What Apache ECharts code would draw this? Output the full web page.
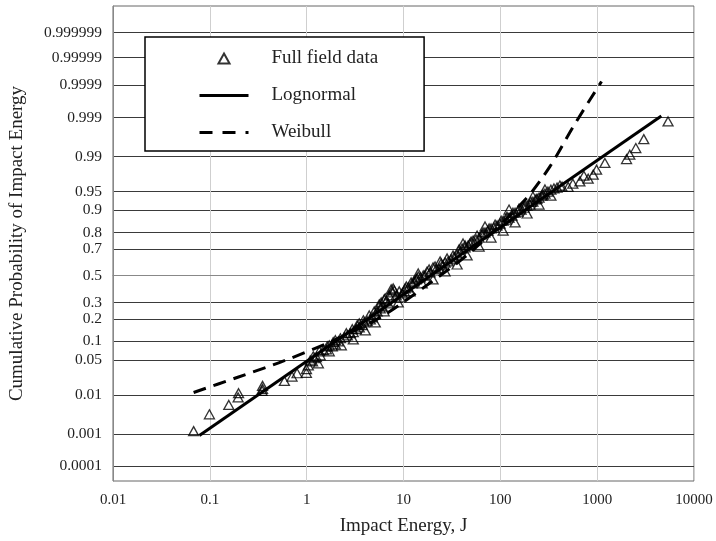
<!DOCTYPE html>
<html>
<head>
<meta charset="utf-8">
<script src="https://cdn.jsdelivr.net/npm/echarts@6/dist/echarts.min.js"></script>
<style>
  html, body { margin: 0; padding: 0; background: #fff; }
  #chart { width: 716px; height: 541px; }
</style>
</head>
<body>
<div id="chart"></div>
<script>
// field data (impact energy J, cumulative probability)
const fieldEnergy = [
  0.068, 0.099, 0.157, 0.196, 0.198, 0.347, 0.35, 0.35, 0.589, 0.706, 0.796, 0.993, 0.995,
  1.04, 1.15, 1.26, 1.38, 1.60, 1.84, 2.12, 2.45, 2.82, 3.25, 3.75, 4.22, 4.76, 5.35, 6.03, 6.63,
  7.12, 7.65, 8.41, 9.25, 10.2, 11.2, 12.3, 13.5, 14.9, 16.7, 18.8, 21.7, 25.1, 28.9, 33.3, 38.5,
  43.3, 48.7, 56.2, 64.8, 74.7, 86.1, 99.3, 115, 132, 152, 176, 202, 233, 269, 310, 358,
  1.32, 1.71, 2.28, 3.03, 4.03, 5.11, 6.32, 8.83, 11.7, 15.6, 20.2, 26.9, 35.8, 45.4, 60.4,
  80.2, 107, 142, 189, 251, 333,
  1.98, 3.49, 5.89, 7.46, 14.2, 23.9, 41.2, 69.5, 123, 217, 289, 412, 561, 729,
  1.09, 1.20, 1.49, 1.71, 1.98, 2.63, 3.03, 3.49, 3.93, 4.54, 5.11, 5.75, 6.48, 6.95, 8.02,
  9.71, 10.7, 12.9, 14.2, 17.5, 20.2, 23.3, 26.9, 31.0, 35.8, 40.3, 46.5, 52.3, 60.4, 69.5,
  80.2, 92.5, 107, 123, 142, 164, 189, 217, 251, 289, 333, 385, 434,
  1.17, 1.35, 1.63, 1.88, 2.23, 2.57, 2.96, 3.33, 3.85, 4.43, 4.99, 5.62, 6.32, 7.83, 9.03,
  10.4, 12.0, 13.8, 16.0, 18.4, 21.2, 24.5, 28.2, 32.5, 37.5, 43.3, 49.9, 57.5, 66.4, 76.6,
  88.3, 102, 117, 135, 156, 180, 207, 239, 276,
  502, 663, 808, 910, 986, 1202, 2011, 2174, 2506, 3030, 5395
];
const fieldProb = [
  0.0012, 0.0034, 0.0058, 0.0087, 0.0109, 0.0122, 0.0157, 0.0135, 0.0199, 0.0245, 0.0284, 0.029, 0.034,
  0.040, 0.047, 0.056, 0.060, 0.075, 0.084, 0.100, 0.115, 0.131, 0.148, 0.167, 0.187, 0.208, 0.243, 0.275, 0.308,
  0.350, 0.372, 0.350, 0.336, 0.380, 0.410, 0.440, 0.471, 0.487, 0.502, 0.526, 0.549, 0.580, 0.610, 0.640, 0.675,
  0.710, 0.736, 0.760, 0.790, 0.811, 0.827, 0.846, 0.864, 0.880, 0.895, 0.908, 0.918, 0.932, 0.941, 0.950, 0.956,
  0.0436, 0.070, 0.087, 0.107, 0.143, 0.181, 0.243, 0.301, 0.380, 0.440, 0.471, 0.533, 0.587, 0.654, 0.716,
  0.772, 0.811, 0.851, 0.888, 0.918, 0.941,
  0.104, 0.176, 0.301, 0.395, 0.518, 0.610, 0.736, 0.832, 0.902, 0.939, 0.954, 0.961, 0.964, 0.9747,
  0.049, 0.0535, 0.073, 0.087, 0.090, 0.122, 0.135, 0.157, 0.181, 0.197, 0.225, 0.262, 0.329, 0.295, 0.387,
  0.365, 0.417, 0.456, 0.494, 0.533, 0.564, 0.557, 0.602, 0.625, 0.661, 0.703, 0.723, 0.754, 0.772, 0.801,
  0.822, 0.837, 0.859, 0.872, 0.891, 0.902, 0.915, 0.926, 0.9365, 0.9457, 0.9537, 0.9574, 0.9591,
  0.0577, 0.070, 0.084, 0.097, 0.111, 0.131, 0.148, 0.167, 0.192, 0.219, 0.243, 0.288, 0.322, 0.402, 0.380,
  0.402, 0.448, 0.479, 0.502, 0.549, 0.572, 0.595, 0.632, 0.654, 0.696, 0.723, 0.748, 0.784, 0.801, 0.822,
  0.841, 0.859, 0.876, 0.891, 0.905, 0.915, 0.926, 0.934, 0.9435,
  0.9586, 0.9674, 0.971, 0.9759, 0.9809, 0.9862, 0.9887, 0.991, 0.9937, 0.9962, 0.99871
];

// fitted lines
const lognormalEnergy = [0.078, 4600];
const lognormalProb = [0.0009, 0.9991];
const weibullEnergy = [0.068, 0.191, 0.579, 1.83, 5.75, 16.1, 48.7, 180, 326, 567, 1109];
const weibullProb = [0.0113, 0.0234, 0.048, 0.101, 0.208, 0.408, 0.675, 0.931, 0.9837, 0.99823, 0.999926];

// axis ticks
const probTicks = [0.0001, 0.001, 0.01, 0.05, 0.1, 0.2, 0.3, 0.5, 0.7, 0.8, 0.9, 0.95, 0.99, 0.999, 0.9999, 0.99999, 0.999999];
const probLabels = ['0.0001', '0.001', '0.01', '0.05', '0.1', '0.2', '0.3', '0.5', '0.7', '0.8', '0.9', '0.95', '0.99', '0.999', '0.9999', '0.99999', '0.999999'];
const energyTicks = [0.01, 0.1, 1, 10, 100, 1000, 10000];
const energyLabels = ['0.01', '0.1', '1', '10', '100', '1000', '10000'];

// inverse normal cdf (Acklam), used as the probability scale
function probit(p) {
  const a = [-3.969683028665376e+01, 2.209460984245205e+02, -2.759285104469687e+02, 1.383577518672690e+02, -3.066479806614716e+01, 2.506628277459239e+00];
  const b = [-5.447609879822406e+01, 1.615858368580409e+02, -1.556989798598866e+02, 6.680131188771972e+01, -1.328068155288572e+01];
  const c = [-7.784894002430293e-03, -3.223964580411365e-01, -2.400758277161838e+00, -2.549732539343734e+00, 4.374664141464968e+00, 2.938163982698783e+00];
  const d = [7.784695709041462e-03, 3.224671290700398e-01, 2.445134137142996e+00, 3.754408661907416e+00];
  const plow = 0.02425;
  let q, r;
  if (p < plow) {
    q = Math.sqrt(-2 * Math.log(p));
    return (((((c[0] * q + c[1]) * q + c[2]) * q + c[3]) * q + c[4]) * q + c[5]) /
      ((((d[0] * q + d[1]) * q + d[2]) * q + d[3]) * q + 1);
  }
  if (p <= 1 - plow) {
    q = p - 0.5;
    r = q * q;
    return (((((a[0] * r + a[1]) * r + a[2]) * r + a[3]) * r + a[4]) * r + a[5]) * q /
      (((((b[0] * r + b[1]) * r + b[2]) * r + b[3]) * r + b[4]) * r + 1);
  }
  q = Math.sqrt(-2 * Math.log(1 - p));
  return -(((((c[0] * q + c[1]) * q + c[2]) * q + c[3]) * q + c[4]) * q + c[5]) /
    ((((d[0] * q + d[1]) * q + d[2]) * q + d[3]) * q + 1);
}

const zTicks = probTicks.map(probit);
const FONT = 'Liberation Serif';

const chart = echarts.init(document.getElementById('chart'));
chart.setOption({
  animation: false,
  grid: { left: 112, right: 22, top: 6, bottom: 59, show: true, borderColor: '#666', borderWidth: 1 },
  legend: {
    left: 145,
    top: 37,
    orient: 'vertical',
    backgroundColor: '#fff',
    borderColor: '#000',
    borderWidth: 1.5,
    borderRadius: 0,
    padding: [12, 46, 9, 53],
    itemWidth: 49,
    itemHeight: 10,
    itemGap: 18,
    textStyle: { fontFamily: FONT, fontSize: 19, color: '#222', padding: [0, 0, 0, 18] },
    data: [
      { name: 'Full field data', icon: 'path://M5,0L10,9L0,9Z' },
      { name: 'Lognormal', itemStyle: { opacity: 0 }, lineStyle: { width: 3 } },
      { name: 'Weibull', itemStyle: { opacity: 0 }, lineStyle: { width: 3, type: [13, 10] } }
    ]
  },
  xAxis: {
    type: 'log',
    logBase: 10,
    min: 0.01,
    max: 10000,
    name: 'Impact Energy, J',
    nameLocation: 'middle',
    nameGap: 36,
    nameTextStyle: { fontFamily: FONT, fontSize: 19, color: '#222' },
    axisLine: { lineStyle: { color: '#888', width: 1 } },
    axisTick: { show: false },
    minorTick: { show: false },
    axisLabel: {
      fontFamily: FONT, fontSize: 15, color: '#222', margin: 12,
      formatter: v => {
        const i = energyTicks.findIndex(t => Math.abs(Math.log10(t) - Math.log10(v)) < 1e-6);
        return i >= 0 ? energyLabels[i] : '';
      }
    },
    splitLine: { show: true, lineStyle: { color: '#cfcfcf', width: 1 } }
  },
  yAxis: {
    type: 'value',
    min: -4.01,
    max: 5.27,
    name: 'Cumulative Probability of Impact Energy',
    nameLocation: 'middle',
    nameGap: 86,
    nameTextStyle: { fontFamily: FONT, fontSize: 19, color: '#222' },
    axisLine: { show: true, lineStyle: { color: '#888', width: 1 } },
    axisTick: { show: false, customValues: zTicks },
    axisLabel: {
      fontFamily: FONT, fontSize: 15.5, color: '#222', margin: 11,
      customValues: zTicks,
      formatter: v => {
        const i = zTicks.findIndex(t => Math.abs(t - v) < 1e-6);
        return i >= 0 ? probLabels[i] : '';
      }
    },
    splitLine: { show: true, lineStyle: { color: '#3a3a3a', width: 1 } }
  },
  series: [
    {
      name: 'Full field data',
      type: 'scatter',
      symbol: 'triangle',
      symbolSize: [10, 9],
      itemStyle: { color: 'rgba(255,255,255,0)', borderColor: '#000', borderWidth: 1.3 },
      data: fieldEnergy.map((x, i) => [x, probit(fieldProb[i])]),
      z: 3
    },
    {
      name: 'Lognormal',
      type: 'line',
      symbol: 'none',
      lineStyle: { color: '#000', width: 3 },
      itemStyle: { color: '#000' },
      data: lognormalEnergy.map((x, i) => [x, probit(lognormalProb[i])]),
      z: 4
    },
    {
      name: 'Weibull',
      type: 'line',
      symbol: 'none',
      smooth: 0.3,
      lineStyle: { color: '#000', width: 3, type: [13, 8] },
      itemStyle: { color: '#000' },
      data: weibullEnergy.map((x, i) => [x, probit(weibullProb[i])]),
      z: 4
    }
  ]
});

window.addEventListener('resize', () => chart.resize());
</script>
</body>
</html>
